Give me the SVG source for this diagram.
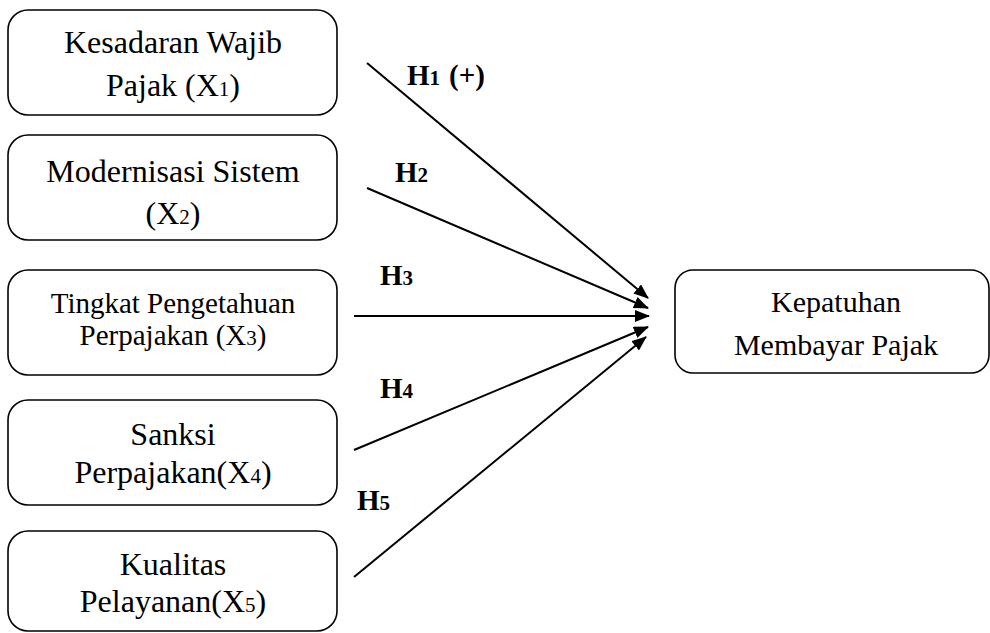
<svg xmlns="http://www.w3.org/2000/svg" width="990" height="633" viewBox="0 0 990 633">
<style>
.box{fill:#fff;stroke:#000;stroke-width:1.6}
.t{font-family:"Liberation Serif","Times New Roman",serif;font-size:32px;fill:#000;text-anchor:middle}
.t3{font-size:29px}
.ty{font-size:30px}
.sub{font-size:21px}
.h{font-family:"Liberation Serif","Times New Roman",serif;font-size:29px;font-weight:bold;fill:#000}
.hs{font-size:21px}
.c{stroke:#000;stroke-width:2;fill:none;marker-end:url(#arr)}
</style>
<defs>
<marker id="arr" markerUnits="userSpaceOnUse" markerWidth="15" markerHeight="12" refX="14" refY="6" orient="auto">
<path d="M0,0 L15,6 L0,12 z" fill="#000"/>
</marker>
</defs>
<rect width="990" height="633" fill="#fff"/>
<g id="x1">
<rect class="box" x="8" y="10" width="329" height="105" rx="20"/>
<text class="t" x="173" y="53">Kesadaran Wajib</text>
<text class="t" x="173" y="96">Pajak (X<tspan class="sub">1</tspan>)</text>
</g>
<g id="x2">
<rect class="box" x="8" y="135" width="329" height="105" rx="20"/>
<text class="t" x="173" y="182">Modernisasi Sistem</text>
<text class="t" x="173" y="224">(X<tspan class="sub">2</tspan>)</text>
</g>
<g id="x3">
<rect class="box" x="8" y="270" width="329" height="105" rx="20"/>
<text class="t t3" x="173" y="313">Tingkat Pengetahuan</text>
<text class="t t3" x="173" y="345">Perpajakan (X<tspan class="sub">3</tspan>)</text>
</g>
<g id="x4">
<rect class="box" x="8" y="400" width="329" height="105" rx="20"/>
<text class="t" x="173" y="445">Sanksi</text>
<text class="t" x="173" y="483">Perpajakan(X<tspan class="sub">4</tspan>)</text>
</g>
<g id="x5">
<rect class="box" x="8" y="531" width="329" height="100" rx="20"/>
<text class="t" x="173" y="575">Kualitas</text>
<text class="t" x="173" y="612">Pelayanan(X<tspan class="sub">5</tspan>)</text>
</g>
<g id="y">
<rect class="box" x="675" y="270" width="314" height="103" rx="18"/>
<text class="t ty" x="836" y="312">Kepatuhan</text>
<text class="t ty" x="836" y="355">Membayar Pajak</text>
</g>
<g id="connectors">
<line class="c" x1="367" y1="63" x2="648" y2="298"/>
<line class="c" x1="367" y1="188" x2="648" y2="308"/>
<line class="c" x1="354" y1="316" x2="649" y2="316"/>
<line class="c" x1="354" y1="450" x2="648" y2="327"/>
<line class="c" x1="354" y1="577" x2="646" y2="337"/>
</g>
<g id="labels">
<text class="h" x="407" y="85">H<tspan class="hs">1</tspan><tspan dx="9">(+)</tspan></text>
<text class="h" x="395" y="182">H<tspan class="hs">2</tspan></text>
<text class="h" x="380" y="285">H<tspan class="hs">3</tspan></text>
<text class="h" x="380" y="398">H<tspan class="hs">4</tspan></text>
<text class="h" x="357" y="510">H<tspan class="hs">5</tspan></text>
</g>
</svg>
